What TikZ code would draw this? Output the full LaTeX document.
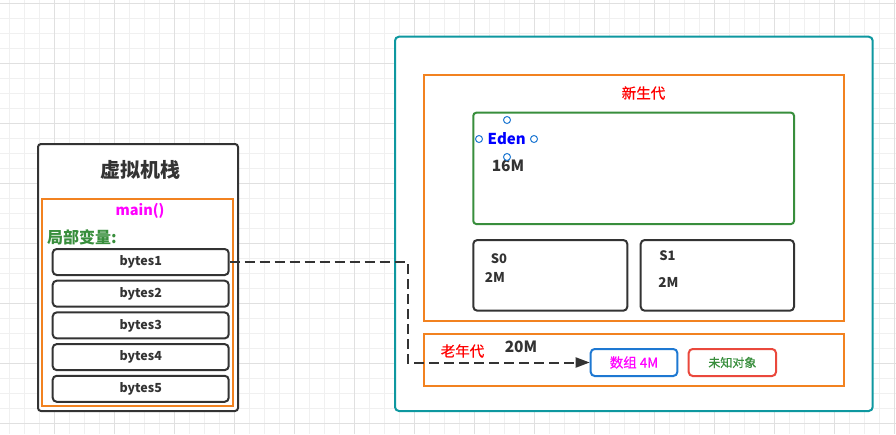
\documentclass[tikz,border=0pt]{standalone}
\usepackage{fontspec}
\setmainfont{Noto Sans CJK SC}
\newfontfamily\midfont{Noto Sans CJK SC}[FakeBold=0.5]
\usetikzlibrary{arrows.meta}

\definecolor{boxgray}{RGB}{51,51,51}
\definecolor{heaporange}{RGB}{242,130,32}
\definecolor{heapteal}{RGB}{14,152,160}
\definecolor{edengreen}{RGB}{56,142,60}
\definecolor{arrblue}{RGB}{30,120,210}
\definecolor{objred}{RGB}{234,72,60}
\definecolor{varmagenta}{RGB}{255,0,255}
\definecolor{gridminor}{RGB}{240,240,240}
\definecolor{gridmajor}{RGB}{224,224,224}

\tikzset{
  area/.style={draw, line width=2pt, inner sep=0pt, fill=white},
  slot/.style={area, draw=boxgray, rounded corners=4pt, minimum width=176pt, minimum height=26pt,
    text=boxgray, font=\bfseries\fontsize{12.5}{14}\selectfont},
  caption/.style={inner sep=0pt, font=\bfseries\fontsize{#1}{#1}\selectfont},
  redcaption/.style={inner sep=0pt, text=red, font=\midfont\fontsize{#1}{#1}\selectfont},
  handle/.style={circle, draw=arrblue, line width=1pt, fill=white, inner sep=0pt, minimum size=7pt},
  flow/.style={draw=boxgray, line width=2pt, dash pattern=on 10pt off 5pt,
    -{Triangle[length=14pt, width=10pt]}}
}

\begin{document}
\begin{tikzpicture}[x=1pt, y=-1pt]
\useasboundingbox (0,0) rectangle (896,434);
\fill[white] (0,0) rectangle (896,434);
% background grid
\foreach \x in {9.5,24.5,...,895} \draw[gridminor, line width=0.8pt] (\x,0) -- (\x,434);
\foreach \y in {3.5,18.5,...,434} \draw[gridminor, line width=0.8pt] (0,\y) -- (896,\y);
\foreach \x in {54.5,114.5,...,895} \draw[gridmajor, line width=0.8pt] (\x,0) -- (\x,434);
\foreach \y in {3.5,63.5,...,434} \draw[gridmajor, line width=0.8pt] (0,\y) -- (896,\y);

% stack
\node[area, draw=boxgray, rounded corners=3pt, minimum width=200pt, minimum height=267pt] (stack) at (138,277.5) {};
\node[caption=20, text=boxgray] (stacktitle) at (140,170) {虚拟机栈};
\node[draw=heaporange, line width=2pt, inner sep=0pt, minimum width=191pt, minimum height=206.4pt] (frame) at (137.2,302.5) {};
\node[caption=14.5, text=varmagenta] (mainname) at (140,211) {main()};
\node[caption=16, text=edengreen, anchor=west] (locals) at (47,237) {局部变量:};
\foreach \i in {1,...,5}
  \node[slot] (bytes\i) at (140.7,{262+31.7*(\i-1)}) {bytes\i};

% heap
\node[area, draw=heapteal, rounded corners=4pt, minimum width=477.7pt, minimum height=374.3pt] (heap) at (633.85,223.85) {};
\node[draw=heaporange, line width=2pt, inner sep=0pt, minimum width=420.3pt, minimum height=246.3pt] (young) at (633.85,197.85) {};
\node[redcaption=14.5] (youngname) at (643.5,93) {新生代};
\node[draw=edengreen, line width=2pt, rounded corners=3pt, inner sep=0pt, minimum width=320.7pt, minimum height=111.3pt] (eden) at (633.65,168.35) {};
\node[caption=15, text=blue] (edenname) at (506.7,139) {Eden};
\node[caption=15.5, text=boxgray] (edensize) at (508,166) {16M};
\node[handle] (h1) at (479,139) {};
\node[handle] (h2) at (534,139) {};
\node[handle] (h3) at (507,120) {};
\node[handle] (h4) at (507,157) {};
\node[draw=boxgray, line width=2pt, rounded corners=4pt, inner sep=0pt, minimum width=154pt, minimum height=70.7pt] (s0) at (550.3,275.35) {};
\node[draw=boxgray, line width=2pt, rounded corners=4pt, inner sep=0pt, minimum width=153.3pt, minimum height=70.7pt] (s1) at (717.35,275.35) {};
\node[caption=13, text=boxgray] (s0name) at (499,258.3) {S0};
\node[caption=13.5, text=boxgray] (s0size) at (495,277.3) {2M};
\node[caption=13, text=boxgray] (s1name) at (667.5,256) {S1};
\node[caption=13.5, text=boxgray] (s1size) at (668.3,282.7) {2M};

\node[draw=heaporange, line width=2pt, inner sep=0pt, minimum width=420.7pt, minimum height=51.7pt] (old) at (633.85,359.85) {};
\node[redcaption=14.5] (oldname) at (462.5,351) {老年代};
\node[caption=15.5, text=boxgray] (oldsize) at (521,346.7) {20M};
\node[draw=arrblue, line width=2pt, rounded corners=4pt, inner sep=0pt, minimum width=86.6pt, minimum height=27pt,
  text=varmagenta, font=\midfont\fontsize{13.5}{14}\selectfont] (arr) at (634,362.5) {数组 4M};
\node[draw=objred, line width=2pt, rounded corners=4pt, inner sep=0pt, minimum width=87.3pt, minimum height=27pt,
  text=edengreen, font=\midfont\fontsize{12}{14}\selectfont] (unknown) at (732.35,362.5) {未知对象};

% reference
\coordinate (bend) at (407.5,262);
\draw[flow] (bytes1.east) -- (bend) |- (arr.west);
\end{tikzpicture}
\end{document}
